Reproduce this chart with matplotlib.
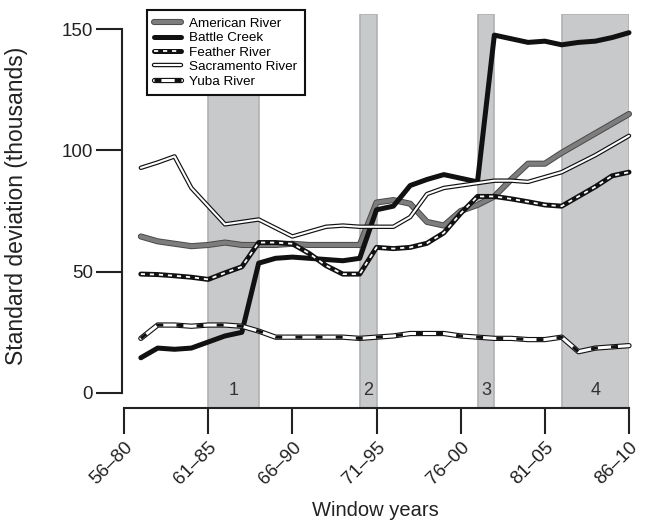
import numpy as np
import matplotlib
matplotlib.use("Agg")
import matplotlib.pyplot as plt
from matplotlib.legend_handler import HandlerTuple

plt.rcParams['font.family'] = ['Liberation Sans', 'DejaVu Sans']
plt.rcParams['lines.scale_dashes'] = False

# 25-year windows, first window 57-81 (index 1) to 86-10 (index 30)
window_idx = list(range(1, 31))
tick_idx = [0, 5, 10, 15, 20, 25, 30]
tick_labels = ['56–80', '61–85', '66–90', '71–95', '76–00', '81–05', '86–10']

american = [64.5, 62.5, 61.5, 60.5, 61, 62, 61, 61, 61, 61.5, 61, 61, 61, 61, 78.5,
            79.5, 78, 70.5, 69, 75, 77.5, 81, 88, 94.5, 94.5, 99, 103, 107, 111, 115]
battle = [14.5, 18.5, 18, 18.5, 21, 23.5, 25, 53.5, 55.5, 56, 55.5, 55, 54.5, 55.5, 75.5,
          77, 85.5, 88, 90, 88.5, 87, 147.5, 146, 144.5, 145, 143.5, 144.5, 145, 146.5, 148.5]
feather = [49, 48.8, 48.3, 47.7, 46.8, 49.5, 52, 62, 62, 61.5, 57.5, 52.5, 49, 49, 60,
           59.5, 60, 61.7, 66, 74, 81, 81, 80, 78.8, 77.5, 77, 81, 85, 89.5, 91]
sacramento = [92.8, 95, 97.5, 84.5, 77, 69.5, 70.5, 71.5, 68, 64.5, 66.5, 68.5, 69, 68.5, 68.5,
              68.5, 72.5, 82, 84.5, 85.5, 86.5, 87.5, 87.5, 87, 89, 91, 94.5, 98, 102, 106]
yuba = [22.5, 28, 28, 27.5, 28, 28, 27.5, 25.5, 23, 23, 23, 23, 23, 22.5, 23,
        23.5, 24.5, 24.5, 24.5, 23.5, 23, 22.5, 22.5, 22, 22, 23, 17, 18.5, 19, 19.5]

# shaded periods (window index ranges) and their numbers
periods = [(5, 8), (14, 15), (21, 22), (26, 30)]
period_names = ['1', '2', '3', '4']

W, H = 646, 523
fig = plt.figure(figsize=(W / 100, H / 100), dpi=100)
ax = fig.add_axes([122 / W, 1 - 408 / H, 507 / W, 394 / H])

for (a, b), name in zip(periods, period_names):
    ax.axvspan(a, b, facecolor='#c8c9cb', edgecolor='#b2b2b4', lw=1.2, zorder=0)
    ax.text((a + b) / 2, 1.2, name, ha='center', va='center', fontsize=13, color='#333333')

kw = dict(solid_capstyle='round', solid_joinstyle='round', dash_capstyle='butt', clip_on=False)

a1, = ax.plot(window_idx, american, color='#4a4a4a', lw=4.4, **kw)
a2, = ax.plot(window_idx, american, color='#7d7d7d', lw=3.0, **kw)

b1, = ax.plot(window_idx, battle, color='#111111', lw=3.6, **kw)

f1, = ax.plot(window_idx, feather, color='#111111', lw=3.6, **kw)
f2, = ax.plot(window_idx, feather, color='white', lw=1.3, dashes=(3, 3.5), **kw)

s1, = ax.plot(window_idx, sacramento, color='#111111', lw=3.2, **kw)
s2, = ax.plot(window_idx, sacramento, color='white', lw=1.5, **kw)

y1, = ax.plot(window_idx, yuba, color='#111111', lw=3.8, **kw)
y2, = ax.plot(window_idx, yuba, color='white', lw=2.2, **kw)
y3, = ax.plot(window_idx, yuba, color='#111111', lw=2.2, dashes=(5, 9.5), **kw)

ax.set_xlim(-0.12, 30)
ax.set_ylim(-6.2, 156.2)

for side in ['top', 'right']:
    ax.spines[side].set_visible(False)
ax.spines['left'].set_bounds(0, 150)
ax.spines['bottom'].set_bounds(0, 30)
for side in ['left', 'bottom']:
    ax.spines[side].set_linewidth(1.5)
    ax.spines[side].set_color('#222222')

ax.set_yticks([0, 50, 100, 150])
ax.set_xticks(tick_idx)
ax.set_xticklabels(tick_labels, rotation=45, ha='right', rotation_mode='anchor')
ax.tick_params(axis='both', direction='out', length=19, width=1.5, color='#222222',
               labelsize=13.5, labelcolor='#222222')
ax.tick_params(axis='x', pad=3)
ax.tick_params(axis='y', pad=2)

fig.text(17 / W, 1 - 206 / H, 'Standard deviation (thousands)', rotation=90,
         ha='center', va='center', fontsize=16.5, color='#222222')
fig.text(375 / W, 1 - 510 / H, 'Window years', ha='center', va='center',
         fontsize=14.5, color='#222222')

leg = ax.legend([(a1, a2), b1, (f1, f2), (s1, s2), (y1, y2, y3)],
                ['American River', 'Battle Creek', 'Feather River', 'Sacramento River', 'Yuba River'],
                handler_map={tuple: HandlerTuple(ndivide=1, pad=0)},
                loc='upper left', bbox_to_anchor=(147 / W, 1 - 10 / H), bbox_transform=fig.transFigure,
                fontsize=9.7, frameon=True, fancybox=False, framealpha=1, edgecolor='#111111',
                handlelength=2.0, handletextpad=0.6, labelspacing=0.15, borderpad=0.55,
                borderaxespad=0)
leg.get_frame().set_linewidth(1.5)
leg.set_zorder(10)

fig.savefig('out.png', dpi=100)
